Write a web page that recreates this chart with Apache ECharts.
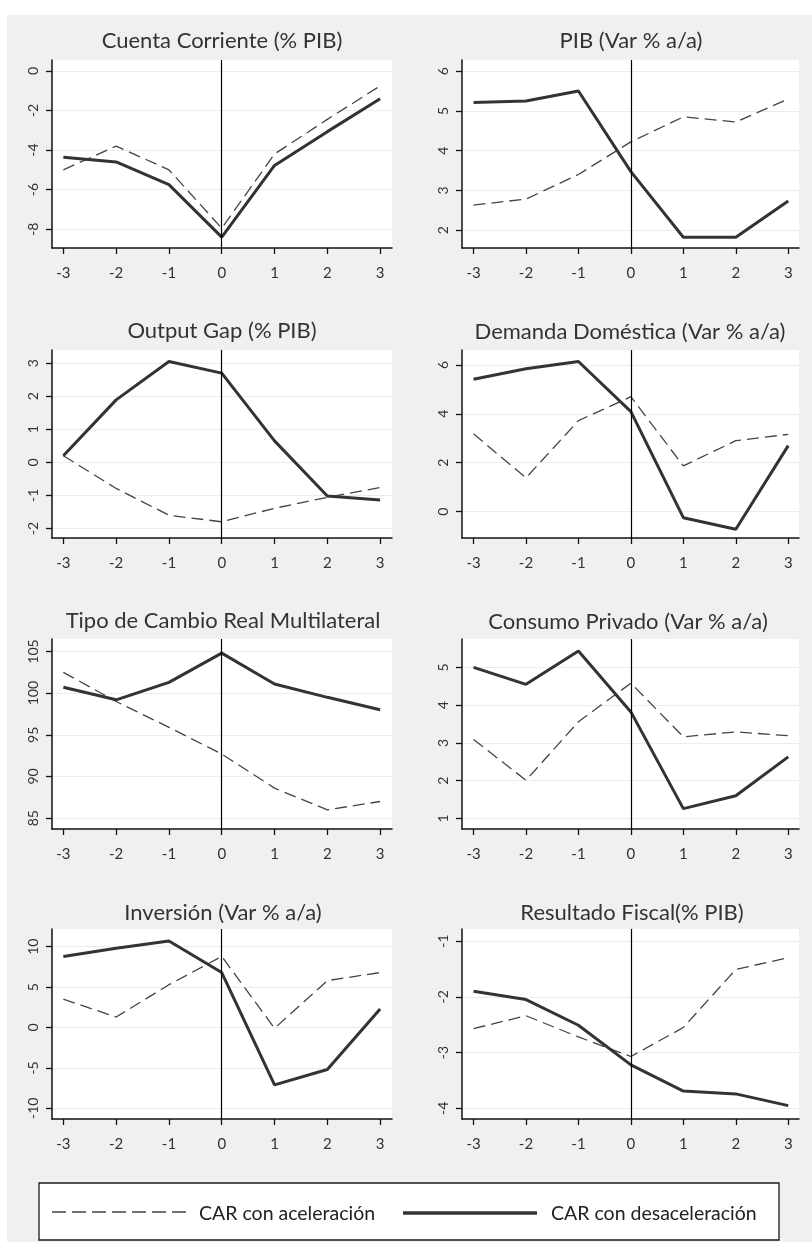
<!DOCTYPE html>
<html><head><meta charset="utf-8">
<script src="https://cdn.jsdelivr.net/npm/echarts@6/dist/echarts.min.js"></script>
<style>html,body{margin:0;padding:0;background:#fff}#c{width:812px;height:1242px}</style>
</head><body><div id="c"></div>
<script>
// ---- data ----
const periods = [-3, -2, -1, 0, 1, 2, 3];
const seriesNames = ['CAR con aceleración', 'CAR con desaceleración'];
const panelTitles = [
  'Cuenta Corriente (% PIB)', 'PIB (Var % a/a)',
  'Output Gap (% PIB)', 'Demanda Doméstica (Var % a/a)',
  'Tipo de Cambio Real Multilateral', 'Consumo Privado (Var % a/a)',
  'Inversión (Var % a/a)', 'Resultado Fiscal(% PIB)'
];
const cuentaAcel = [-5.0, -3.8, -5.0, -7.95, -4.2, -2.45, -0.76];
const cuentaDesac = [-4.36, -4.6, -5.75, -8.4, -4.78, -3.07, -1.41];
const pibAcel = [2.63, 2.78, 3.4, 4.22, 4.85, 4.72, 5.3];
const pibDesac = [5.21, 5.25, 5.5, 3.47, 1.82, 1.82, 2.73];
const gapAcel = [0.2, -0.79, -1.6, -1.8, -1.39, -1.06, -0.76];
const gapDesac = [0.2, 1.89, 3.05, 2.7, 0.65, -1.02, -1.14];
const demandaAcel = [3.18, 1.38, 3.72, 4.7, 1.87, 2.9, 3.16];
const demandaDesac = [5.41, 5.84, 6.14, 4.09, -0.25, -0.72, 2.7];
const tcrAcel = [102.5, 99.0, 95.9, 92.7, 88.6, 86.0, 87.0];
const tcrDesac = [100.7, 99.2, 101.3, 104.8, 101.1, 99.5, 98.0];
const consumoAcel = [3.09, 2.01, 3.56, 4.58, 3.16, 3.29, 3.19];
const consumoDesac = [5.0, 4.55, 5.43, 3.82, 1.26, 1.6, 2.63];
const inversionAcel = [3.5, 1.3, 5.3, 8.8, -0.1, 5.8, 6.8];
const inversionDesac = [8.8, 9.8, 10.7, 6.8, -7.1, -5.2, 2.3];
const fiscalAcel = [-2.57, -2.34, -2.72, -3.07, -2.55, -1.51, -1.30];
const fiscalDesac = [-1.90, -2.05, -2.51, -3.22, -3.69, -3.74, -3.95];

const cuentaTicks = [-8, -6, -4, -2, 0];
const pibTicks = [2, 3, 4, 5, 6];
const gapTicks = [-2, -1, 0, 1, 2, 3];
const demandaTicks = [0, 2, 4, 6];
const tcrTicks = [85, 90, 95, 100, 105];
const consumoTicks = [1, 2, 3, 4, 5];
const inversionTicks = [-10, -5, 0, 5, 10];
const fiscalTicks = [-4, -3, -2, -1];

const panelData = [
  [cuentaAcel, cuentaDesac, cuentaTicks],
  [pibAcel, pibDesac, pibTicks],
  [gapAcel, gapDesac, gapTicks],
  [demandaAcel, demandaDesac, demandaTicks],
  [tcrAcel, tcrDesac, tcrTicks],
  [consumoAcel, consumoDesac, consumoTicks],
  [inversionAcel, inversionDesac, inversionTicks],
  [fiscalAcel, fiscalDesac, fiscalTicks]
];

// ---- layout (pixels) ----
const yRanges = [[-8.95, 0.55], [1.55, 6.28], [-2.29, 3.40], [-1.08, 6.61],
                 [83.7, 106.5], [0.72, 5.75], [-11.32, 12.19], [-4.19, -0.785]];
const colLeft = [52, 462], colRight = [392, 799];
const rowTop = [60, 350, 639, 929], rowBottom = [248, 538, 829, 1119];
const titleCx = [222, 631, 222, 630, 223, 628, 223, 632];
const titleCy = [43, 43, 333, 334, 623, 624, 915, 915];
const xRanges = [[-3.215, 3.225], [-3.22, 3.205]];

const FONT = 'Lato';
const W = 812, H = 1242;

const option = {
  backgroundColor: '#ffffff',
  animation: false,
  textStyle: { fontFamily: FONT },
  graphic: [
    { type: 'rect', z: -10, silent: true, shape: { x: 7, y: 15, width: W - 7, height: H - 15 }, style: { fill: '#f0f0f0' } },
    { type: 'rect', z: 0, silent: true, shape: { x: 39, y: 1183, width: 740, height: 57 }, style: { fill: '#ffffff', stroke: '#1a1a1a', lineWidth: 1.3 } },
    { type: 'line', z: 1, silent: true, shape: { x1: 52, y1: 1212, x2: 187, y2: 1212 }, style: { stroke: '#444', lineWidth: 1.3, lineDash: [14, 6] } },
    { type: 'text', z: 1, silent: true, x: 199, y: 1214,
      style: { text: seriesNames[0], fontSize: 19.5, fontFamily: FONT, fill: '#222', verticalAlign: 'middle', align: 'left' } },
    { type: 'line', z: 1, silent: true, shape: { x1: 403, y1: 1213, x2: 537, y2: 1213 }, style: { stroke: '#333', lineWidth: 3.5 } },
    { type: 'text', z: 1, silent: true, x: 551, y: 1214,
      style: { text: seriesNames[1], fontSize: 19.5, fontFamily: FONT, fill: '#222', verticalAlign: 'middle', align: 'left' } }
  ],
  title: [], grid: [], xAxis: [], yAxis: [], series: []
};

panelData.forEach((pd, i) => {
  const col = i % 2, row = Math.floor(i / 2);
  const [acel, desac, ticks] = pd;
  option.title.push({
    text: panelTitles[i], left: titleCx[i], top: titleCy[i] - 13, textAlign: 'center', padding: 0,
    textStyle: { fontFamily: FONT, fontSize: 22, fontWeight: 'normal', color: '#333' }
  });
  option.grid.push({
    left: colLeft[col], top: rowTop[row], width: colRight[col] - colLeft[col], height: rowBottom[row] - rowTop[row],
    show: true, backgroundColor: '#ffffff', borderWidth: 0
  });
  option.xAxis.push({
    type: 'value', gridIndex: i, min: xRanges[col][0], max: xRanges[col][1],
    axisLine: { show: true, onZero: false, lineStyle: { color: '#111', width: 1.5 } },
    axisTick: { show: true, length: 6, customValues: periods, lineStyle: { color: '#111', width: 1.3 } },
    axisLabel: { customValues: periods, margin: 18, fontSize: 15, color: '#333', fontFamily: FONT },
    splitLine: { show: false }
  });
  option.yAxis.push({
    type: 'value', gridIndex: i, min: yRanges[i][0], max: yRanges[i][1],
    axisLine: { show: true, onZero: false, lineStyle: { color: '#111', width: 1.5 } },
    axisTick: { show: true, length: 6, customValues: ticks, lineStyle: { color: '#111', width: 1.3 } },
    axisLabel: { customValues: ticks, rotate: 90, margin: 12, fontSize: 14, color: '#333', fontFamily: FONT },
    splitLine: { show: true, lineStyle: { color: '#ececec', width: 1.2 } }
  });
  option.series.push({
    name: seriesNames[0], type: 'line', xAxisIndex: i, yAxisIndex: i,
    data: periods.map((p, k) => [p, acel[k]]), symbol: 'none', z: 3,
    lineStyle: { color: '#444', width: 1.3, type: [12, 6] }, itemStyle: { color: '#444' },
    markLine: { silent: true, symbol: 'none', label: { show: false },
      lineStyle: { color: '#000', width: 1.2, type: 'solid' }, data: [{ xAxis: 0 }] }
  });
  option.series.push({
    name: seriesNames[1], type: 'line', xAxisIndex: i, yAxisIndex: i,
    data: periods.map((p, k) => [p, desac[k]]), symbol: 'none', z: 4,
    lineStyle: { color: '#333', width: 3 }, itemStyle: { color: '#333' }
  });
});

const chart = echarts.init(document.getElementById('c'), null, { renderer: 'canvas', width: W, height: H });
chart.setOption(option);
</script></body></html>
